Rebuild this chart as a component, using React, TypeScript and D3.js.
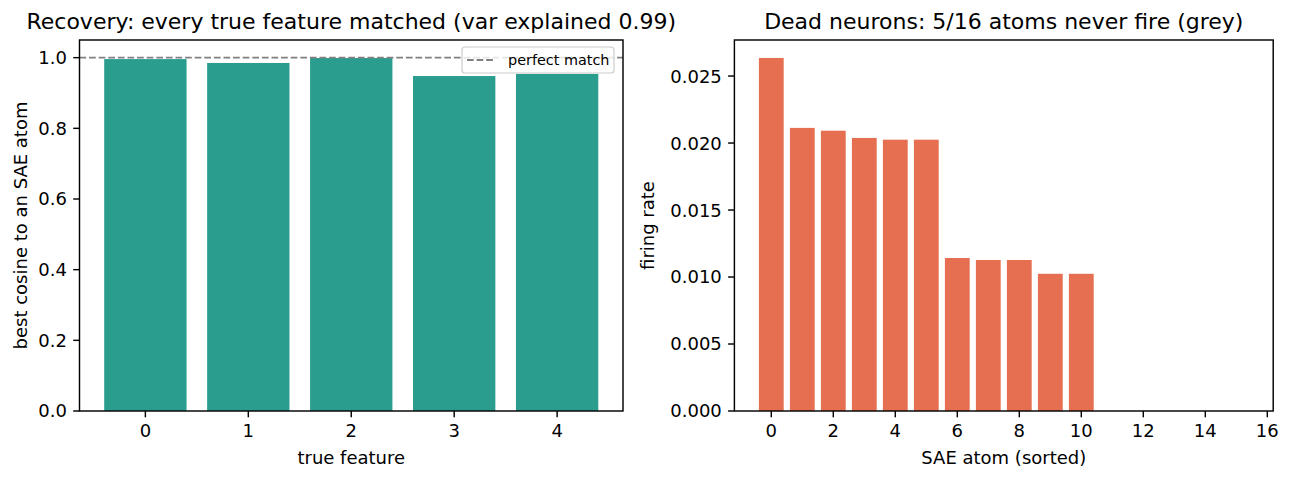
import { useEffect, useRef } from "react";
import * as d3 from "d3";

const features = [0, 1, 2, 3, 4];
const bestCosine = [0.996, 0.985, 0.999, 0.948, 0.954];

const atoms = d3.range(16);
const firingRate = [
  0.02635, 0.02113, 0.02092, 0.02038, 0.02025, 0.02025, 0.01142, 0.01127, 0.01127, 0.01024,
  0.01024, 0, 0, 0, 0, 0,
];

const leftTicks = [0, 0.2, 0.4, 0.6, 0.8, 1.0];
const rightYTicks = [0, 0.005, 0.01, 0.015, 0.02, 0.025];
const rightXTicks = [0, 2, 4, 6, 8, 10, 12, 14, 16];

const W = 1291;
const H = 480;
const FONT = "DejaVu Sans, sans-serif";
const LW = 1.44;
const TICK = 6.3;

export default function App() {
  const svgRef = useRef<SVGSVGElement>(null);

  useEffect(() => {
    document.body.style.margin = "0";
    if (!svgRef.current) return;
    const svg = d3.select(svgRef.current);
    svg.selectAll("*").remove();
    svg.attr("viewBox", `0 0 ${W} ${H}`).attr("width", W).attr("height", H);

    const top = 40;
    const bottom = 411;

    // frame, ticks and labels for one panel
    const drawAxes = (
      g: d3.Selection<SVGGElement, unknown, null, undefined>,
      x: d3.ScaleLinear<number, number>,
      y: d3.ScaleLinear<number, number>,
      xt: number[],
      yt: number[],
      yfmt: (v: number) => string,
      title: string,
      xlabel: string,
      ylabel: string,
      ylabelX: number,
    ) => {
      const [x0, x1] = x.range();
      g.append("rect")
        .attr("x", x0)
        .attr("y", top)
        .attr("width", x1 - x0)
        .attr("height", bottom - top)
        .attr("fill", "none")
        .attr("stroke", "#000")
        .attr("stroke-width", LW);

      const xg = g.append("g");
      xt.forEach((t) => {
        const px = x(t);
        xg.append("line").attr("x1", px).attr("x2", px).attr("y1", bottom).attr("y2", bottom + TICK)
          .attr("stroke", "#000").attr("stroke-width", LW);
        xg.append("text").attr("x", px).attr("y", bottom + 26).attr("text-anchor", "middle")
          .attr("font-size", 18).attr("font-family", FONT).text(String(t));
      });
      const yg = g.append("g");
      yt.forEach((t) => {
        const py = y(t);
        yg.append("line").attr("x1", x0 - TICK).attr("x2", x0).attr("y1", py).attr("y2", py)
          .attr("stroke", "#000").attr("stroke-width", LW);
        yg.append("text").attr("x", x0 - 12.6).attr("y", py).attr("dy", "0.36em").attr("text-anchor", "end")
          .attr("font-size", 18).attr("font-family", FONT).text(yfmt(t));
      });

      g.append("text").attr("x", (x0 + x1) / 2).attr("y", 29).attr("text-anchor", "middle")
        .attr("font-size", 22).attr("font-family", FONT).text(title);
      g.append("text").attr("x", (x0 + x1) / 2).attr("y", 464).attr("text-anchor", "middle")
        .attr("font-size", 18).attr("font-family", FONT).text(xlabel);
      g.append("text")
        .attr("transform", `translate(${ylabelX},${(top + bottom) / 2}) rotate(-90)`)
        .attr("text-anchor", "middle")
        .attr("font-size", 18).attr("font-family", FONT).text(ylabel);
    };

    // left panel: best cosine per true feature
    const lx = d3.scaleLinear().domain([-0.64, 4.64]).range([79.5, 623]);
    const ly = d3.scaleLinear().domain([0, 1.05]).range([bottom, top]);
    const left = svg.append("g");
    left.append("g")
      .selectAll("rect")
      .data(features)
      .join("rect")
      .attr("x", (d) => lx(d - 0.4))
      .attr("width", (d) => lx(d + 0.4) - lx(d - 0.4))
      .attr("y", (d) => ly(bestCosine[d]))
      .attr("height", (d) => ly(0) - ly(bestCosine[d]))
      .attr("fill", "#2a9d8f");
    left.append("line")
      .attr("x1", 79.5).attr("x2", 623).attr("y1", ly(1)).attr("y2", ly(1))
      .attr("stroke", "#808080").attr("stroke-width", 1.8).attr("stroke-dasharray", "6.7,2.9");
    drawAxes(left, lx, ly, features, leftTicks, (v) => v.toFixed(1),
      "Recovery: every true feature matched (var explained 0.99)", "true feature",
      "best cosine to an SAE atom", 27);

    // legend
    const lg = left.append("g");
    lg.append("rect").attr("x", 462).attr("y", 47).attr("width", 152).attr("height", 26).attr("rx", 3)
      .attr("fill", "#fff").attr("fill-opacity", 0.8).attr("stroke", "#cccccc").attr("stroke-width", 1.2);
    lg.append("line").attr("x1", 467).attr("x2", 494).attr("y1", 60).attr("y2", 60)
      .attr("stroke", "#808080").attr("stroke-width", 1.8).attr("stroke-dasharray", "6.7,2.9");
    lg.append("text").attr("x", 508).attr("y", 60).attr("dy", "0.36em")
      .attr("font-size", 14.4).attr("font-family", FONT).text("perfect match");

    // right panel: firing rate per SAE atom
    const rx = d3.scaleLinear().domain([-1.19, 16.19]).range([734.4, 1273.2]);
    const ry = d3.scaleLinear().domain([0, 0.02769]).range([bottom, top]);
    const right = svg.append("g");
    right.append("g")
      .selectAll("rect")
      .data(atoms)
      .join("rect")
      .attr("x", (d) => rx(d - 0.4))
      .attr("width", (d) => rx(d + 0.4) - rx(d - 0.4))
      .attr("y", (d) => ry(firingRate[d]))
      .attr("height", (d) => ry(0) - ry(firingRate[d]))
      .attr("fill", (d) => (firingRate[d] > 0 ? "#e76f51" : "#999999"));
    drawAxes(right, rx, ry, rightXTicks, rightYTicks, (v) => v.toFixed(3),
      "Dead neurons: 5/16 atoms never fire (grey)", "SAE atom (sorted)", "firing rate", 654);
  }, []);

  return <svg ref={svgRef} style={{ display: "block" }} />;
}
